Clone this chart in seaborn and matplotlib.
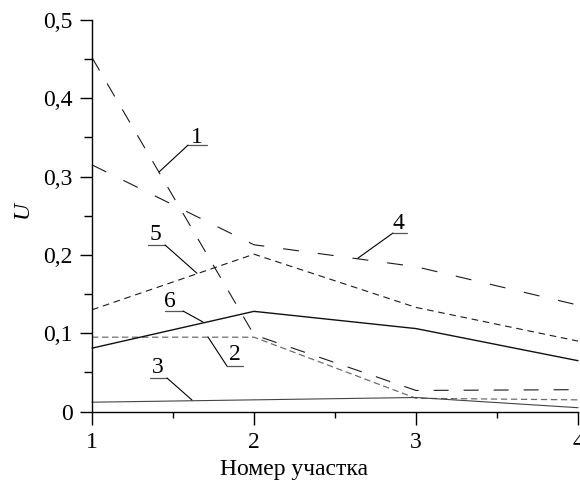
import matplotlib
matplotlib.use("Agg")
import matplotlib.pyplot as plt
import seaborn as sns
import pandas as pd
from matplotlib.ticker import MultipleLocator, FuncFormatter

# ---- data ----
sections = [1, 2, 3, 4]
s1 = [0.452, 0.098, 0.027, 0.028]
s2 = [0.095, 0.095, 0.017, 0.015]
s3 = [0.012, 0.015, 0.018, 0.005]
s4 = [0.315, 0.213, 0.185, 0.136]
s5 = [0.130, 0.201, 0.133, 0.090]
s6 = [0.081, 0.128, 0.106, 0.065]
series_names = ["1", "2", "3", "4", "5", "6"]
x_label = "Номер участка"
y_label = "U"

sns.set_theme(style="white")
plt.rcParams["font.family"] = ["Liberation Serif", "DejaVu Serif"]
plt.rcParams["lines.scale_dashes"] = False

FS = 17

df = pd.DataFrame({
    "x": sections * 6,
    "U": s1 + s2 + s3 + s4 + s5 + s6,
    "series": sum([[n] * 4 for n in series_names], []),
})

styles = {
    "1": dict(color="#1a1a1a", lw=0.8, dashes=(10.8, 10.8)),
    "2": dict(color="#6e6e6e", lw=0.9, dashes=(4.6, 2.6)),
    "3": dict(color="#444444", lw=0.8, dashes=None),
    "4": dict(color="#1a1a1a", lw=0.8, dashes=(11.5, 13.7)),
    "5": dict(color="#1a1a1a", lw=0.8, dashes=(4.8, 3.4)),
    "6": dict(color="#111111", lw=1.0, dashes=None),
}

fig = plt.figure(figsize=(5.8, 4.83), dpi=100)
ax = fig.add_axes([92 / 580, 1 - 411.6 / 483, (578 - 92) / 580, (411.6 - 20) / 483])

for name in series_names:
    sub = df[df["series"] == name]
    st = styles[name]
    sns.lineplot(data=sub, x="x", y="U", ax=ax, color=st["color"],
                 linewidth=st["lw"], legend=False)
    l = ax.lines[-1]
    if st["dashes"] is not None:
        l.set_dashes(st["dashes"])
    l.set_clip_on(False)

ax.set_xlim(1, 4)
ax.set_ylim(0, 0.5)
ax.xaxis.set_major_locator(MultipleLocator(1))
ax.xaxis.set_minor_locator(MultipleLocator(0.5))
ax.yaxis.set_major_locator(MultipleLocator(0.1))
ax.yaxis.set_minor_locator(MultipleLocator(0.05))
ax.yaxis.set_major_formatter(FuncFormatter(lambda v, p: "0" if abs(v) < 1e-9 else f"{v:.1f}".replace(".", ",")))
ax.xaxis.set_major_formatter(FuncFormatter(lambda v, p: f"{int(round(v))}"))

for s in ["top", "right"]:
    ax.spines[s].set_visible(False)
for s in ["left", "bottom"]:
    ax.spines[s].set_color("black")
    ax.spines[s].set_linewidth(1.0)

ax.tick_params(axis="both", which="major", direction="out", length=9, width=1.0,
               color="black", labelsize=FS, labelcolor="black")
ax.tick_params(axis="y", which="major", pad=5)
ax.tick_params(axis="x", which="major", pad=6)
ax.tick_params(axis="y", which="minor", direction="out", length=6, width=1.0, color="black")
ax.tick_params(axis="x", which="minor", direction="out", length=4, width=1.0, color="black")
ax.tick_params(left=True, bottom=True, which="both")

ax.set_xlabel(x_label, fontsize=FS, color="black")
ax.xaxis.set_label_coords(0.4156, -0.121)
ax.set_ylabel(y_label, fontsize=FS, color="black", style="italic")
ax.yaxis.set_label_coords(-0.122, 0.515)

# curve labels with leader lines: (text, text x, text y, underline x0, x1, underline y, leader start x, leader end x, end y)
labels = [
    ("1", 1.648, 0.350, 1.593, 1.710, 0.3403, 1.593, 1.414, 0.306),
    ("5", 1.389, 0.2255, 1.346, 1.451, 0.2127, 1.451, 1.648, 0.1766),
    ("6", 1.481, 0.140, 1.451, 1.562, 0.1284, 1.562, 1.685, 0.1144),
    ("2", 1.883, 0.0723, 1.833, 1.932, 0.0582, 1.833, 1.716, 0.0952),
    ("3", 1.407, 0.0569, 1.358, 1.463, 0.0429, 1.463, 1.617, 0.0148),
    ("4", 2.889, 0.2408, 2.858, 2.944, 0.2280, 2.858, 2.642, 0.196),
]
for t, tx, ty, ux0, ux1, uy, lx0, lx1, ly1 in labels:
    ax.text(tx, ty, t, fontsize=FS, color="black", ha="center", va="center")
    ax.plot([ux0, ux1], [uy, uy], color="#555555", lw=0.9, clip_on=False)
    ax.plot([lx0, lx1], [uy, ly1], color="black", lw=0.8, clip_on=False)

fig.savefig("out.png", dpi=100, facecolor="white")
